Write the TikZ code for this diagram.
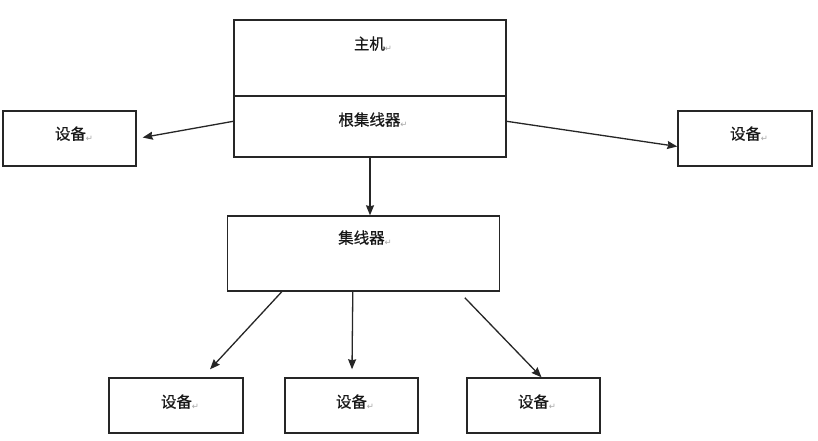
\documentclass[tikz,border=0pt]{standalone}
\usepackage{fontspec}
\newfontfamily\cjk[FakeBold=0.6]{Noto Sans CJK SC}
\newfontfamily\symfont{DejaVu Sans}
\usetikzlibrary{calc,arrows.meta}
\newcommand{\retmark}{{\symfont\fontsize{8.5}{9}\selectfont\color{gray!70}\raisebox{-2pt}{↵}}}
\begin{document}
\begin{tikzpicture}[x=1pt,y=-1pt,
  box/.style={draw=black!85,line width=1.4pt,rectangle,inner sep=0pt},
  lbl/.style={font=\cjk\fontsize{15.5}{17}\selectfont,inner sep=0pt,text=black!90},
  conn/.style={draw=black!85,line width=1.3pt,-{Stealth[length=10pt,width=8pt,inset=1pt]}}]
\useasboundingbox[fill=white] (0,0) rectangle (818,441);
% boxes
\node[box,minimum width=272pt,minimum height=137pt] (main) at (370,88.5) {};
\draw[black!85,line width=1.4pt] (main.west |- 0,96) -- (main.east |- 0,96);
\node[box,minimum width=133pt,minimum height=55pt] (devL) at (69.5,138.5) {};
\node[box,minimum width=134pt,minimum height=55pt] (devR) at (745,138.5) {};
\node[box,minimum width=272pt,minimum height=75pt] (hub) at (363.5,253.5) {};
\node[box,minimum width=134pt,minimum height=55pt] (d1) at (176,405.5) {};
\node[box,minimum width=133pt,minimum height=55pt] (d2) at (351.5,405.5) {};
\node[box,minimum width=133pt,minimum height=55pt] (d3) at (533.5,405.5) {};
% labels
\node[lbl] (tmain) at (373,44) {主机\retmark};
\node[lbl] (troot) at (373,120) {根集线器\retmark};
\node[lbl] (thub) at (365,238) {集线器\retmark};
\node[lbl] (tdevL) at (74,134) {设备\retmark};
\node[lbl] (tdevR) at (749,134) {设备\retmark};
\node[lbl] (td1) at (180,402) {设备\retmark};
\node[lbl] (td2) at (355,402) {设备\retmark};
\node[lbl] (td3) at (537,402) {设备\retmark};
% connectors
\draw[conn] ($(main.north west)+(0,102)$) -- ($(devL.east)+(6,-1)$);
\draw[conn] ($(main.north east)+(0,102)$) -- ($(devR.west)+(0,8)$);
\draw[conn] (main.south) -- (main.south |- hub.north);
\draw[conn] ($(hub.south west)+(55,0)$) -- ($(d1.north)+(34,-8)$);
\draw[conn] ($(hub.south west)+(126,0)$) -- ($(d2.north)+(0.5,-8)$);
\draw[conn] ($(hub.south west)+(238,6)$) -- ($(d3.north)+(8,0)$);
\end{tikzpicture}
\end{document}
